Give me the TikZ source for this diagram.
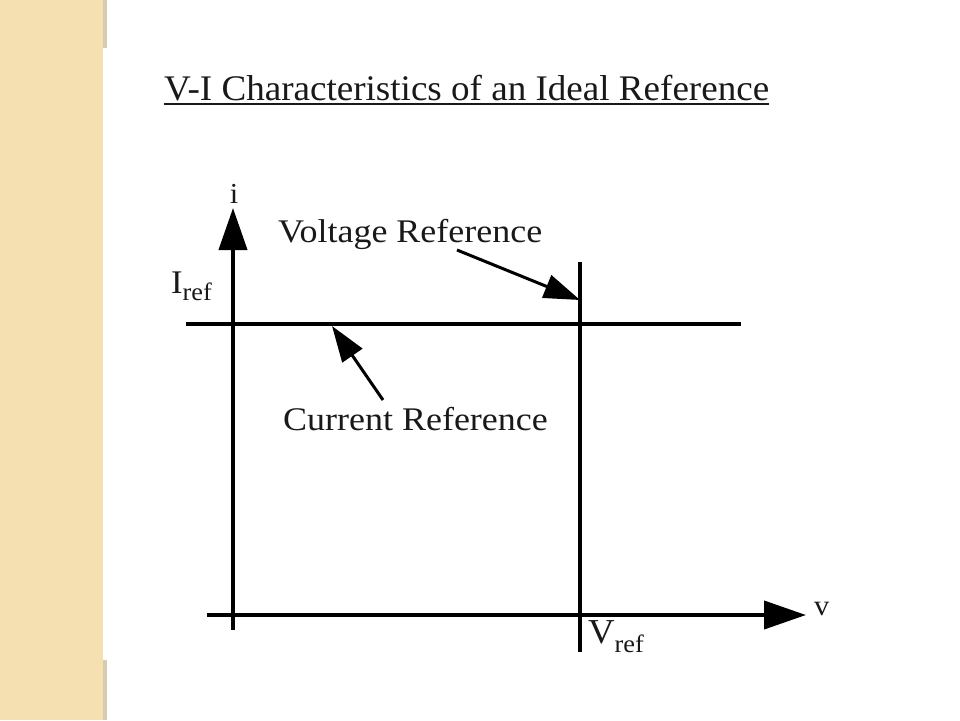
\documentclass[tikz,border=0pt]{standalone}
\usepackage{fontspec}
\setmainfont{Liberation Serif}
\newfontfamily\widelbl[FakeStretch=1.09]{Liberation Serif}
\newfontfamily\widetitle[FakeStretch=1.03]{Liberation Serif}
\newfontfamily\widesm[FakeStretch=1.05]{Liberation Serif}
\usetikzlibrary{arrows.meta}
\definecolor{stripcol}{RGB}{245,224,178}
\definecolor{edgecol}{RGB}{214,204,178}
\begin{document}
\begin{tikzpicture}[x=1pt,y=-1pt,
  lbl/.style={font=\widelbl\fontsize{33}{38}\selectfont, inner sep=0pt, text=black!90},
  small/.style={font=\widesm\fontsize{33}{38}\selectfont, inner sep=0pt, text=black!90},
  axisline/.style={line width=4pt, black},
  refline/.style={line width=4.5pt, black},
  pointer/.style={line width=3pt, black, -{Triangle[length=36pt,width=24pt]}},
  axisarrow/.style={-{Triangle[length=42pt,width=28pt]}}]
\useasboundingbox (0,0) rectangle (960,720);
\fill[white] (0,0) rectangle (960,720);
\fill[stripcol] (0,0) rectangle (103,720);
\fill[edgecol] (103,0) rectangle (107,48);
\fill[edgecol] (103,660) rectangle (107,720);
% title
\node[font=\widetitle\fontsize{36}{42}\selectfont, inner sep=0pt, anchor=base west, text=black!90] (title) at (164,100) {V-I Characteristics of an Ideal Reference};
\draw[line width=2pt, black!90] ([yshift=-4pt]title.base west) -- ([yshift=-4pt]title.base east);
% coordinates
\coordinate (ibot) at (233,630);
\coordinate (itop) at (233,208);
\coordinate (vleft) at (207,615);
\coordinate (vright) at (806,615);
\coordinate (irefL) at (186,324);
\coordinate (irefR) at (741,324);
\coordinate (vrefT) at (580,262);
\coordinate (vrefB) at (580,652);
% axes
\draw[axisline,axisarrow] (ibot) -- (itop);
\draw[axisline,axisarrow] (vleft) -- (vright);
\draw[refline] (irefL) -- (irefR);
\draw[axisline] (vrefT) -- (vrefB);
% labels
\node[font=\widesm\fontsize{29}{34}\selectfont, inner sep=0pt, text=black!90, anchor=base] (ilbl) at (234,203) {i};
\node[font=\widesm\fontsize{29}{34}\selectfont, inner sep=0pt, text=black!90, anchor=base west] (vlbl) at (814,615) {v};
\node[small, anchor=base west] (Iref) at (171,293) {I\raisebox{-7pt}{\fontsize{25}{25}\selectfont ref}};
\node[small, anchor=base west, font=\widesm\fontsize{35}{40}\selectfont] (Vref) at (588,643) {V\raisebox{-9pt}{\fontsize{25}{25}\selectfont ref}};
\node[lbl, anchor=base west] (vrtext) at (278,242) {Voltage Reference};
\node[lbl, anchor=base west] (crtext) at (283,430) {Current Reference};
% pointers
\coordinate (vtail) at (457,250);
\coordinate (vtip) at (580,300);
\coordinate (ctail) at (383,400);
\coordinate (ctip) at (332,326);
\draw[pointer] (vtail) -- (vtip);
\draw[pointer] (ctail) -- (ctip);
\end{tikzpicture}
\end{document}
